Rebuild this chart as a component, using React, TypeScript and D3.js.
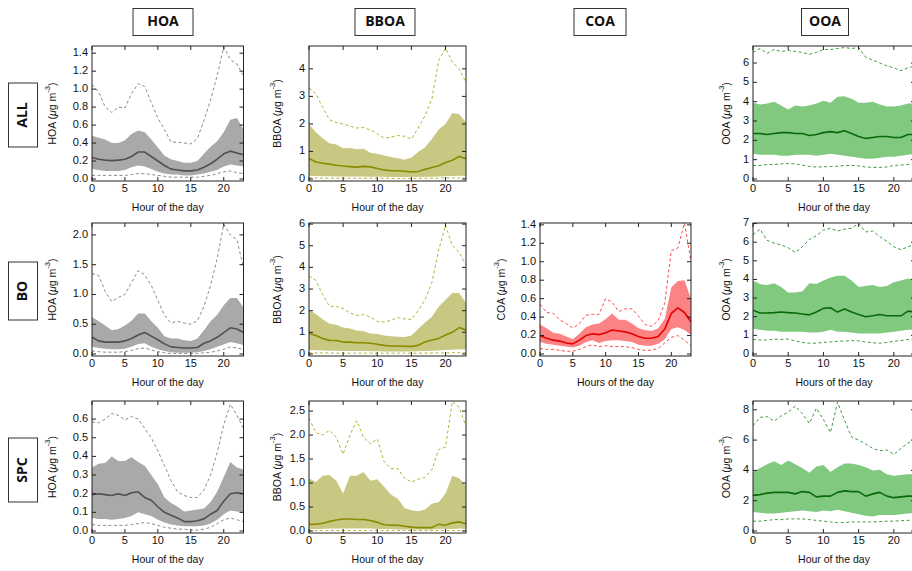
import React from 'react';
import * as d3 from 'd3';

const hours = [0,1,2,3,4,5,6,7,8,9,10,11,12,13,14,15,16,17,18,19,20,21,22,23];
const xTicks = [0, 5, 10, 15, 20];
const speciesNames = ['HOA', 'BBOA', 'COA', 'OOA'];
const rowNames = ['ALL', 'BO', 'SPC'];

// ---------- ALL ----------
const hoaAllMed = [0.24,0.22,0.21,0.205,0.21,0.22,0.25,0.30,0.30,0.25,0.20,0.15,0.11,0.10,0.09,0.09,0.10,0.13,0.17,0.22,0.28,0.31,0.29,0.27];
const hoaAllQ75 = [0.48,0.46,0.44,0.40,0.40,0.43,0.50,0.54,0.52,0.44,0.35,0.26,0.22,0.20,0.18,0.18,0.20,0.28,0.36,0.42,0.52,0.66,0.68,0.55];
const hoaAllQ25 = [0.11,0.10,0.09,0.09,0.09,0.10,0.13,0.15,0.14,0.11,0.08,0.06,0.05,0.05,0.04,0.04,0.05,0.06,0.08,0.10,0.14,0.16,0.15,0.14];
const hoaAllP90 = [1.05,0.97,0.80,0.74,0.80,0.79,0.95,1.06,1.03,0.85,0.68,0.55,0.41,0.41,0.40,0.39,0.45,0.65,0.88,1.15,1.47,1.33,1.28,1.15];
const hoaAllP10 = [0.04,0.04,0.04,0.04,0.04,0.04,0.05,0.06,0.06,0.05,0.04,0.03,0.02,0.02,0.02,0.02,0.02,0.03,0.04,0.06,0.08,0.09,0.07,0.06];

const bboaAllMed = [0.75,0.62,0.57,0.54,0.50,0.47,0.45,0.43,0.46,0.44,0.38,0.33,0.30,0.30,0.28,0.26,0.27,0.35,0.42,0.48,0.60,0.68,0.82,0.74];
const bboaAllQ75 = [1.98,1.70,1.48,1.30,1.25,1.12,1.13,1.08,1.10,0.95,0.92,0.85,0.80,0.75,0.70,0.78,0.98,1.15,1.45,1.80,2.00,2.40,2.35,2.05];
const bboaAllQ25 = [0.12,0.11,0.10,0.10,0.09,0.09,0.09,0.09,0.09,0.08,0.08,0.08,0.07,0.07,0.07,0.07,0.07,0.08,0.08,0.09,0.10,0.11,0.12,0.11];
const bboaAllP90 = [3.30,3.10,2.60,2.15,2.05,2.00,1.92,1.85,1.87,1.78,1.65,1.48,1.52,1.58,1.55,1.45,1.85,2.30,2.90,4.30,4.75,4.25,4.00,3.50];
const bboaAllP10 = [0.04,0.04,0.03,0.03,0.03,0.03,0.03,0.03,0.03,0.03,0.03,0.03,0.02,0.02,0.02,0.02,0.02,0.03,0.03,0.03,0.04,0.04,0.04,0.04];

const ooaAllMed = [2.35,2.35,2.30,2.35,2.40,2.40,2.35,2.35,2.25,2.30,2.40,2.45,2.40,2.50,2.35,2.20,2.10,2.15,2.20,2.20,2.15,2.15,2.30,2.30];
const ooaAllQ75 = [3.95,3.85,3.90,4.00,3.80,3.60,3.80,3.75,3.80,3.90,4.05,3.95,4.25,4.28,4.15,3.95,3.95,4.00,3.85,3.75,3.75,3.80,3.90,3.90];
const ooaAllQ25 = [1.30,1.25,1.25,1.25,1.20,1.20,1.25,1.25,1.25,1.20,1.25,1.30,1.25,1.20,1.15,1.10,1.05,1.05,1.10,1.15,1.15,1.20,1.25,1.30];
const ooaAllP90 = [6.55,6.75,6.50,6.70,6.60,6.65,6.60,6.55,6.45,6.55,6.70,6.70,6.75,6.80,6.75,6.80,6.30,6.15,6.00,5.85,5.75,5.60,5.75,5.85];
const ooaAllP10 = [0.70,0.70,0.75,0.75,0.78,0.80,0.78,0.72,0.65,0.62,0.63,0.65,0.66,0.70,0.70,0.68,0.62,0.60,0.60,0.62,0.70,0.72,0.75,0.78];

// ---------- BO ----------
const hoaBoMed = [0.28,0.22,0.20,0.20,0.20,0.22,0.26,0.32,0.36,0.30,0.24,0.17,0.12,0.11,0.10,0.10,0.11,0.18,0.22,0.28,0.36,0.44,0.42,0.36];
const hoaBoQ75 = [0.62,0.55,0.48,0.40,0.42,0.48,0.56,0.68,0.68,0.55,0.44,0.30,0.26,0.26,0.23,0.22,0.26,0.40,0.55,0.66,0.82,0.94,0.94,0.78];
const hoaBoQ25 = [0.12,0.10,0.09,0.08,0.08,0.09,0.12,0.17,0.18,0.12,0.08,0.05,0.03,0.02,0.02,0.02,0.03,0.05,0.08,0.12,0.16,0.20,0.18,0.15];
const hoaBoP90 = [1.35,1.32,1.05,0.88,0.95,1.00,1.20,1.40,1.33,1.15,0.90,0.65,0.52,0.55,0.52,0.50,0.56,0.80,1.15,1.60,2.18,2.00,1.92,1.45];
const hoaBoP10 = [0.05,0.04,0.03,0.03,0.03,0.04,0.06,0.09,0.10,0.07,0.04,0.02,0.01,0.01,0.01,0.01,0.01,0.02,0.03,0.05,0.08,0.12,0.10,0.08];

const bboaBoMed = [0.95,0.85,0.72,0.63,0.62,0.55,0.55,0.52,0.52,0.50,0.45,0.40,0.37,0.37,0.36,0.35,0.40,0.55,0.65,0.72,0.88,1.00,1.22,1.10];
const bboaBoQ75 = [2.05,1.85,1.60,1.40,1.35,1.22,1.18,1.08,1.05,0.95,0.92,0.85,0.82,0.80,0.78,0.85,1.15,1.45,1.72,2.18,2.50,2.82,2.82,2.35];
const bboaBoQ25 = [0.18,0.17,0.16,0.15,0.15,0.14,0.14,0.14,0.14,0.13,0.13,0.12,0.12,0.12,0.12,0.12,0.13,0.14,0.15,0.16,0.18,0.20,0.22,0.20];
const bboaBoP90 = [3.60,3.40,2.75,2.20,2.20,2.10,1.90,1.78,1.82,1.70,1.50,1.48,1.55,1.68,1.62,1.60,2.00,2.50,3.30,4.80,5.95,5.00,4.70,4.10];
const bboaBoP10 = [0.05,0.05,0.05,0.05,0.04,0.04,0.04,0.04,0.04,0.04,0.04,0.04,0.04,0.04,0.04,0.04,0.04,0.04,0.05,0.05,0.05,0.06,0.06,0.06];

const coaBoMed = [0.20,0.17,0.15,0.14,0.12,0.11,0.15,0.20,0.22,0.21,0.23,0.26,0.25,0.24,0.22,0.19,0.17,0.17,0.19,0.27,0.44,0.50,0.45,0.35];
const coaBoQ75 = [0.32,0.28,0.23,0.22,0.19,0.16,0.22,0.29,0.32,0.33,0.38,0.44,0.37,0.37,0.33,0.28,0.26,0.25,0.28,0.38,0.72,0.79,0.80,0.60];
const coaBoQ25 = [0.13,0.11,0.10,0.09,0.08,0.07,0.09,0.13,0.15,0.12,0.14,0.15,0.15,0.14,0.13,0.10,0.09,0.09,0.11,0.16,0.27,0.29,0.26,0.21];
const coaBoP90 = [0.54,0.45,0.44,0.37,0.33,0.28,0.33,0.42,0.43,0.43,0.60,0.56,0.46,0.49,0.49,0.41,0.32,0.30,0.36,0.55,1.12,1.15,1.42,1.00];
const coaBoP10 = [0.06,0.05,0.05,0.04,0.03,0.03,0.05,0.08,0.10,0.08,0.09,0.08,0.08,0.08,0.07,0.05,0.04,0.04,0.06,0.12,0.18,0.20,0.15,0.09];

const ooaBoMed = [2.35,2.20,2.20,2.22,2.25,2.22,2.20,2.15,2.10,2.25,2.45,2.48,2.25,2.42,2.25,2.12,2.00,2.05,2.12,2.05,2.05,2.05,2.30,2.25];
const ooaBoQ75 = [3.95,3.75,3.70,3.80,3.60,3.30,3.30,3.35,3.80,3.75,3.95,4.10,4.20,4.20,3.95,3.60,3.65,3.70,3.60,3.65,3.85,3.95,4.05,4.00];
const ooaBoQ25 = [1.35,1.30,1.25,1.25,1.20,1.20,1.20,1.20,1.15,1.15,1.20,1.30,1.20,1.20,1.15,1.10,1.10,1.10,1.10,1.15,1.20,1.25,1.30,1.30];
const ooaBoP90 = [6.40,6.70,6.10,5.95,5.85,5.70,5.45,5.75,6.15,6.35,6.65,6.75,6.60,6.70,6.75,7.00,6.55,6.60,6.30,6.05,5.75,5.60,5.75,5.90];
const ooaBoP10 = [0.78,0.75,0.75,0.80,0.78,0.80,0.70,0.62,0.58,0.58,0.62,0.65,0.68,0.70,0.72,0.70,0.65,0.60,0.58,0.62,0.68,0.72,0.78,0.82];

// ---------- SPC ----------
const hoaSpcMed = [0.195,0.20,0.195,0.19,0.20,0.19,0.205,0.21,0.18,0.165,0.13,0.10,0.085,0.07,0.05,0.05,0.055,0.065,0.09,0.11,0.16,0.20,0.205,0.20];
const hoaSpcQ75 = [0.34,0.36,0.365,0.40,0.375,0.375,0.395,0.37,0.35,0.30,0.25,0.18,0.15,0.13,0.105,0.11,0.115,0.12,0.155,0.21,0.29,0.37,0.34,0.33];
const hoaSpcQ25 = [0.07,0.065,0.065,0.06,0.065,0.07,0.08,0.10,0.09,0.08,0.06,0.045,0.035,0.03,0.025,0.025,0.025,0.03,0.04,0.06,0.09,0.11,0.105,0.10];
const hoaSpcP90 = [0.585,0.58,0.60,0.63,0.62,0.595,0.615,0.60,0.55,0.50,0.43,0.35,0.27,0.21,0.19,0.18,0.18,0.22,0.30,0.42,0.57,0.68,0.62,0.55];
const hoaSpcP10 = [0.035,0.03,0.03,0.03,0.03,0.03,0.035,0.04,0.045,0.04,0.03,0.02,0.015,0.01,0.01,0.005,0.005,0.01,0.02,0.04,0.06,0.07,0.06,0.05];

const bboaSpcMed = [0.14,0.14,0.16,0.20,0.23,0.25,0.25,0.24,0.24,0.22,0.18,0.13,0.12,0.12,0.10,0.08,0.07,0.07,0.07,0.14,0.12,0.17,0.19,0.15];
const bboaSpcQ75 = [1.10,1.02,1.15,1.17,1.05,0.78,1.15,1.15,1.23,1.05,1.08,0.92,0.76,0.67,0.48,0.43,0.41,0.45,0.57,0.60,0.78,1.15,1.10,0.95];
const bboaSpcQ25 = [0.04,0.04,0.04,0.05,0.05,0.05,0.05,0.05,0.05,0.05,0.04,0.04,0.04,0.03,0.03,0.03,0.03,0.03,0.03,0.04,0.04,0.04,0.05,0.04];
const bboaSpcP90 = [2.35,2.05,2.00,2.10,1.95,1.60,2.00,2.30,1.95,1.82,1.92,1.45,1.30,1.30,1.10,1.02,1.08,1.12,1.28,1.70,1.75,2.70,2.58,2.18];
const bboaSpcP10 = [0.01,0.01,0.01,0.01,0.01,0.01,0.01,0.01,0.01,0.01,0.01,0.01,0.01,0.01,0.01,0.01,0.01,0.01,0.01,0.01,0.01,0.01,0.01,0.01];

const ooaSpcMed = [2.35,2.40,2.50,2.55,2.55,2.55,2.45,2.60,2.55,2.25,2.30,2.30,2.55,2.65,2.60,2.60,2.30,2.45,2.55,2.30,2.20,2.25,2.30,2.30];
const ooaSpcQ75 = [3.90,4.15,4.40,4.60,4.35,4.65,4.40,4.15,3.85,4.25,4.35,3.90,4.20,4.45,4.45,4.35,4.20,4.00,4.05,3.75,3.65,3.70,3.75,3.75];
const ooaSpcQ25 = [1.25,1.20,1.15,1.15,1.20,1.25,1.30,1.35,1.30,1.25,1.35,1.30,1.40,1.30,1.20,1.10,1.00,0.95,1.05,1.05,1.05,1.10,1.15,1.20];
const ooaSpcP90 = [6.95,7.50,7.55,7.25,7.60,7.85,8.25,7.75,7.10,8.10,7.35,6.50,8.50,7.30,6.20,6.00,5.75,5.45,5.30,5.35,5.05,5.45,5.80,6.05];
const ooaSpcP10 = [0.65,0.65,0.70,0.75,0.75,0.80,0.80,0.80,0.75,0.70,0.65,0.60,0.55,0.55,0.60,0.60,0.60,0.60,0.62,0.65,0.65,0.68,0.70,0.75];

// y-axis tick labels per panel
const ticksHoaAll = [0, 0.2, 0.4, 0.6, 0.8, 1.0, 1.2, 1.4];
const ticksBboaAll = [0, 1, 2, 3, 4];
const ticksOoaAll = [0, 1, 2, 3, 4, 5, 6];
const ticksHoaBo = [0, 0.5, 1.0, 1.5, 2.0];
const ticksBboaBo = [0, 1, 2, 3, 4, 5, 6];
const ticksCoaBo = [0, 0.2, 0.4, 0.6, 0.8, 1.0, 1.2, 1.4];
const ticksOoaBo = [0, 1, 2, 3, 4, 5, 6, 7];
const ticksHoaSpc = [0, 0.1, 0.2, 0.3, 0.4, 0.5, 0.6];
const ticksBboaSpc = [0, 0.5, 1.0, 1.5, 2.0, 2.5];
const ticksOoaSpc = [0, 2, 4, 6, 8];

const COLORS: Record<string, { fill: string; med: string; dash: string }> = {
  HOA: { fill: '#a9a9a9', med: '#505050', dash: '#8a8a8a' },
  BBOA: { fill: '#c9c882', med: '#8a8a00', dash: '#b3b23a' },
  COA: { fill: '#fb8383', med: '#e60000', dash: '#fa4a4a' },
  OOA: { fill: '#80c97f', med: '#0a6a0a', dash: '#3d9e3d' },
};

const COLS = [
  { x0: 92, x1: 243.5, titleX: 53, headX: 163, headW: 60 },
  { x0: 309, x1: 466, titleX: 278, headX: 385, headW: 60 },
  { x0: 540, x1: 691, titleX: 502, headX: 600, headW: 52 },
  { x0: 753, x1: 915, titleX: 727, headX: 825, headW: 47 },
];
const ROWS = [
  { y0: 46, y1: 181, labY: 115, labH: 64 },
  { y0: 223, y1: 356, labY: 291, labH: 58 },
  { y0: 401, y1: 533, labY: 470, labH: 64 },
];

type Panel = {
  sp: string; row: number; col: number;
  med: number[]; q25: number[]; q75: number[]; p10: number[]; p90: number[];
  ymax: number; ticks: number[]; dec: number; xlab: string;
};

const panels: Panel[] = [
  { sp: 'HOA', row: 0, col: 0, med: hoaAllMed, q25: hoaAllQ25, q75: hoaAllQ75, p10: hoaAllP10, p90: hoaAllP90, ymax: 1.48, ticks: ticksHoaAll, dec: 1, xlab: 'Hour of the day' },
  { sp: 'BBOA', row: 0, col: 1, med: bboaAllMed, q25: bboaAllQ25, q75: bboaAllQ75, p10: bboaAllP10, p90: bboaAllP90, ymax: 4.83, ticks: ticksBboaAll, dec: 0, xlab: 'Hour of the day' },
  { sp: 'OOA', row: 0, col: 3, med: ooaAllMed, q25: ooaAllQ25, q75: ooaAllQ75, p10: ooaAllP10, p90: ooaAllP90, ymax: 6.88, ticks: ticksOoaAll, dec: 0, xlab: 'Hour of the day' },
  { sp: 'HOA', row: 1, col: 0, med: hoaBoMed, q25: hoaBoQ25, q75: hoaBoQ75, p10: hoaBoP10, p90: hoaBoP90, ymax: 2.2, ticks: ticksHoaBo, dec: 1, xlab: 'Hour of the day' },
  { sp: 'BBOA', row: 1, col: 1, med: bboaBoMed, q25: bboaBoQ25, q75: bboaBoQ75, p10: bboaBoP10, p90: bboaBoP90, ymax: 6.05, ticks: ticksBboaBo, dec: 0, xlab: 'Hour of the day' },
  { sp: 'COA', row: 1, col: 2, med: coaBoMed, q25: coaBoQ25, q75: coaBoQ75, p10: coaBoP10, p90: coaBoP90, ymax: 1.42, ticks: ticksCoaBo, dec: 1, xlab: 'Hours of the day' },
  { sp: 'OOA', row: 1, col: 3, med: ooaBoMed, q25: ooaBoQ25, q75: ooaBoQ75, p10: ooaBoP10, p90: ooaBoP90, ymax: 7.03, ticks: ticksOoaBo, dec: 0, xlab: 'Hours of the day' },
  { sp: 'HOA', row: 2, col: 0, med: hoaSpcMed, q25: hoaSpcQ25, q75: hoaSpcQ75, p10: hoaSpcP10, p90: hoaSpcP90, ymax: 0.697, ticks: ticksHoaSpc, dec: 1, xlab: 'Hour of the day' },
  { sp: 'BBOA', row: 2, col: 1, med: bboaSpcMed, q25: bboaSpcQ25, q75: bboaSpcQ75, p10: bboaSpcP10, p90: bboaSpcP90, ymax: 2.71, ticks: ticksBboaSpc, dec: 1, xlab: 'Hour of the day' },
  { sp: 'OOA', row: 2, col: 3, med: ooaSpcMed, q25: ooaSpcQ25, q75: ooaSpcQ75, p10: ooaSpcP10, p90: ooaSpcP90, ymax: 8.58, ticks: ticksOoaSpc, dec: 0, xlab: 'Hour of the day' },
];

const FONT = '"Liberation Sans", Arial, Helvetica, sans-serif';
const HEAD_FONT = '"Open Sans", "DejaVu Sans", sans-serif';
const TICK = 4;

function PanelView({ p, idx }: { p: Panel; idx: number }) {
  const c = COLS[p.col];
  const r = ROWS[p.row];
  const col = COLORS[p.sp];
  const x = d3.scaleLinear().domain([0, 23]).range([c.x0, c.x1]);
  const y = d3.scaleLinear().domain([0, p.ymax]).range([r.y1 - 2, r.y0]);
  const area = d3.area<number>().x((h) => x(h)).y0((h, i) => y(p.q25[i])).y1((h, i) => y(p.q75[i]));
  const line = (arr: number[]) => d3.line<number>().x((h) => x(h)).y((h, i) => y(arr[i]))(hours) || '';
  const clipId = `clip${idx}`;
  const fmt = d3.format(`.${p.dec}f`);
  const cy = (r.y0 + r.y1) / 2;
  const cx = (c.x0 + c.x1) / 2;
  const frame = '#222';
  return (
    <g>
      <defs>
        <clipPath id={clipId}>
          <rect x={c.x0} y={r.y0} width={c.x1 - c.x0} height={r.y1 - r.y0} />
        </clipPath>
      </defs>
      <g clipPath={`url(#${clipId})`}>
        <path d={area(hours) || ''} fill={col.fill} stroke="none" />
        <path d={line(p.p90)} fill="none" stroke={col.dash} strokeWidth={1} strokeDasharray="3,2.5" />
        <path d={line(p.p10)} fill="none" stroke={col.dash} strokeWidth={1} strokeDasharray="3,2.5" />
        <path d={line(p.med)} fill="none" stroke={col.med} strokeWidth={1.6} strokeLinejoin="round" />
      </g>
      <rect x={c.x0} y={r.y0} width={c.x1 - c.x0} height={r.y1 - r.y0} fill="none" stroke={frame} strokeWidth={1} />
      {xTicks.map((t) => (
        <g key={`xt${t}`}>
          <line x1={x(t)} x2={x(t)} y1={r.y1} y2={r.y1 - TICK} stroke={frame} />
          <line x1={x(t)} x2={x(t)} y1={r.y0} y2={r.y0 + TICK} stroke={frame} />
          <text x={x(t)} y={r.y1 + 8} textAnchor="middle" dominantBaseline="middle" fontSize={11} fontFamily={FONT} fill="#111">{t}</text>
        </g>
      ))}
      {p.ticks.map((t) => (
        <g key={`yt${t}`}>
          <line x1={c.x0} x2={c.x0 + TICK} y1={y(t)} y2={y(t)} stroke={frame} />
          <line x1={c.x1} x2={c.x1 - TICK} y1={y(t)} y2={y(t)} stroke={frame} />
          <text x={c.x0 - 4} y={y(t)} textAnchor="end" dominantBaseline="middle" fontSize={11} fontFamily={FONT} fill="#111">{fmt(t)}</text>
        </g>
      ))}
      <text x={cx} y={r.y1 + 27} textAnchor="middle" dominantBaseline="middle" fontSize={10.5} fontFamily={FONT} fill="#111">{p.xlab}</text>
      <text transform={`translate(${c.titleX},${cy}) rotate(-90)`} textAnchor="middle" fontSize={10.5} fontFamily={FONT} fill="#111" dominantBaseline="middle">
        {p.sp} (<tspan fontStyle="italic">μ</tspan>g m<tspan dy={-5} fontSize={7.5}>-3</tspan><tspan dy={5}>)</tspan>
      </text>
    </g>
  );
}

export default function App() {
  return (
    <svg width={912} height={571} style={{ position: 'absolute', left: 0, top: 0, background: '#fff' }}>
      <rect x={0} y={0} width={912} height={571} fill="#fff" />
      {speciesNames.map((s, i) => {
        const c = COLS[i];
        return (
          <g key={s}>
            <rect x={c.headX - c.headW / 2} y={8.5} width={c.headW} height={27} fill="#fff" stroke="#333" strokeWidth={1} />
            <text x={c.headX} y={22.5} textAnchor="middle" dominantBaseline="middle" fontSize={14} fontWeight={700} fontFamily={HEAD_FONT} fill="#111">{s}</text>
          </g>
        );
      })}
      {rowNames.map((n, i) => {
        const r = ROWS[i];
        return (
          <g key={n}>
            <rect x={8.5} y={r.labY - r.labH / 2} width={29} height={r.labH} fill="#fff" stroke="#333" strokeWidth={1} />
            <text transform={`translate(23,${r.labY}) rotate(-90)`} textAnchor="middle" dominantBaseline="middle" fontSize={14} fontWeight={700} fontFamily={HEAD_FONT} fill="#111">{n}</text>
          </g>
        );
      })}
      {panels.map((p, i) => <PanelView key={i} p={p} idx={i} />)}
    </svg>
  );
}
